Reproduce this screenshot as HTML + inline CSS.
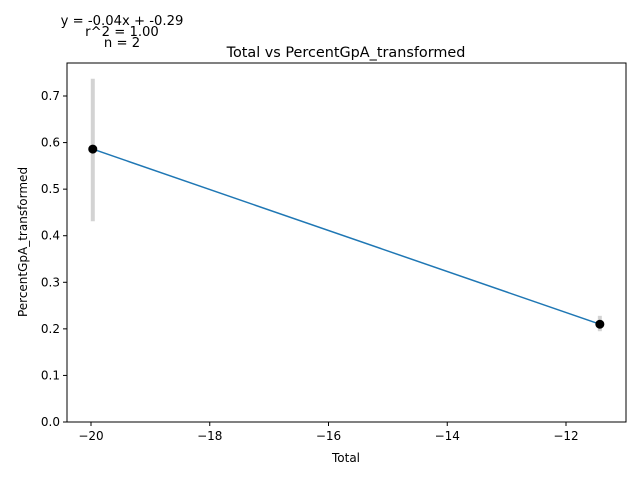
<!DOCTYPE html>
<html><head><meta charset="utf-8"><style>
body{margin:0;background:#fff;font-family:"Liberation Sans","DejaVu Sans",sans-serif;}
svg text{font-family:"DejaVu Sans","Liberation Sans",sans-serif;}
</style></head><body>
<svg id="chart" width="640" height="480" viewBox="0 0 640 480">
<rect width="640" height="480" fill="#fff"/>
<g id="plot"></g>
</svg>
<script>
const xValues=[-19.97,-11.43];
const yValues=[0.586,0.210];
const errLow=[0.431,0.195];
const errHigh=[0.737,0.228];
const xTicks=[-20,-18,-16,-14,-12];
const yTicks=[0.0,0.1,0.2,0.3,0.4,0.5,0.6,0.7];
const L=67,R=626,T=63,B=422;
function sx(v){return 91+(v+20)*59.375;}
function sy(v){return 422-v*465.7;}
const NS="http://www.w3.org/2000/svg";
const g=document.getElementById('plot');
function mk(tag,attrs,parent){const e=document.createElementNS(NS,tag);for(const k in attrs)e.setAttribute(k,attrs[k]);(parent||g).appendChild(e);return e;}
for(let i=0;i<xValues.length;i++){
 const e=mk('line',{x1:sx(xValues[i]),x2:sx(xValues[i]),y1:sy(errLow[i]),y2:sy(errHigh[i]),stroke:'#d3d3d3','stroke-width':4});
 
 
}
const pts=xValues.map((x,i)=>sx(x)+','+sy(yValues[i])).join(' ');
const ln=mk('polyline',{points:pts,fill:'none',stroke:'#1f77b4','stroke-width':1.5});


for(let i=0;i<xValues.length;i++){
 const c=mk('circle',{cx:sx(xValues[i]),cy:sy(yValues[i]),r:4.5,fill:'#000'});
 
 
}
const fr=mk('rect',{x:L,y:T,width:R-L,height:B-T,fill:'none',stroke:'#000','stroke-width':1});


xTicks.forEach(v=>{
 const x=sx(v);
 mk('line',{x1:x,x2:x,y1:B,y2:B+4,stroke:'#000'});
 const t=mk('text',{x:x,y:B+18,'text-anchor':'middle','font-size':12});
 t.textContent='\u2212'+Math.abs(v);
 
 
});
yTicks.forEach(v=>{
 const y=sy(v);
 mk('line',{x1:L-4,x2:L,y1:y,y2:y,stroke:'#000'});
 const t=mk('text',{x:L-7,y:y+4,'text-anchor':'end','font-size':12});
 t.textContent=v.toFixed(1);
 
 
});
</script>
<svg style="position:absolute;left:0;top:0" width="640" height="480">
<text x="346" y="57" text-anchor="middle" font-size="14.4">Total vs PercentGpA_transformed</text>
<text x="346" y="462" text-anchor="middle" font-size="12">Total</text>
<text transform="translate(27,242) rotate(-90)" text-anchor="middle" font-size="12">PercentGpA_transformed</text>
<text x="122" y="25" text-anchor="middle" font-size="13.2">y = -0.04x + -0.29</text>
<text x="122" y="36" text-anchor="middle" font-size="13.2">r^2 = 1.00</text>
<text x="122" y="47" text-anchor="middle" font-size="13.2">n = 2</text>
</svg>
</body></html>
